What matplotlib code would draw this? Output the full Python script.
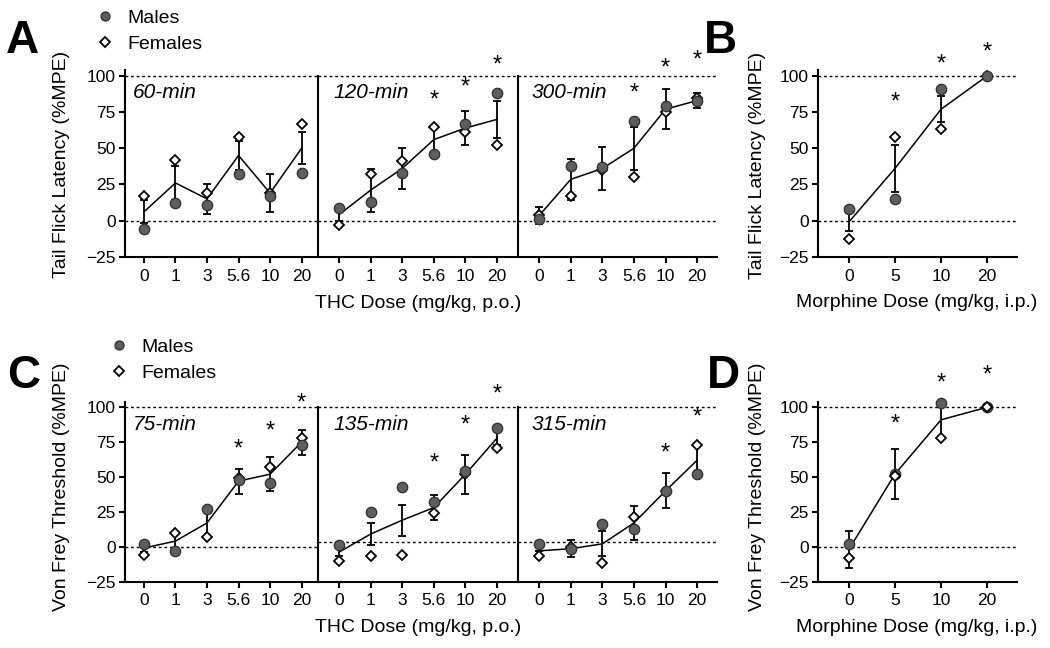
import numpy as np
import matplotlib.pyplot as plt
from matplotlib.lines import Line2D

plt.rcParams['font.family'] = ['Liberation Sans', 'DejaVu Sans']
plt.rcParams['font.size'] = 12

thc_doses = ['0', '1', '3', '5.6', '10', '20']
mor_doses = ['0', '5', '10', '20']

# Tail flick, THC
tf60_males = [-6, 12, 11, 32, 17, 33]
tf60_females = [17, 42, 19, 58, 19, 67]
tf60_mean = [6, 26, 15, 45, 19, 50]
tf60_sem = [8, 12, 10.5, 10, 13, 11]
tf60_stars = [None, None, None, None, None, None]

tf120_males = [9, 13, 33, 46, 67, 88]
tf120_females = [-3, 32, 41, 65, 61, 52]
tf120_mean = [4, 21, 36, 56, 64, 70]
tf120_sem = [4, 15, 14.5, 9, 12, 13]
tf120_stars = [None, None, None, 86, 95, 110]

tf300_males = [1, 38, 37, 69, 79, 83]
tf300_females = [4, 17, 35, 30, 75, 85]
tf300_mean = [3.5, 28.5, 36, 50, 77, 83]
tf300_sem = [6, 14, 15, 15, 14, 5]
tf300_stars = [None, None, None, 91, 108, 114]

# Tail flick, morphine
tfm_males = [8, 15, 91, 100]
tfm_females = [-13, 58, 63, 100]
tfm_mean = [-1, 36, 77, 100]
tfm_sem = [6.5, 16, 9, 0]
tfm_stars = [None, 85, 111, 119]

# Von Frey, THC
vf75_males = [2, -3, 27, 48, 46, 73]
vf75_females = [-6, 10, 7, 49, 57, 78]
vf75_mean = [-1, 4, 17, 47, 52, 75]
vf75_sem = [3, 5, 10, 9, 12, 9]
vf75_stars = [None, None, None, 73, 86, 106]

vf135_males = [1, 25, 43, 32, 54, 85]
vf135_females = [-10, -7, -6, 24, 52, 71]
vf135_mean = [-4, 9, 19, 28, 52, 78]
vf135_sem = [3, 8, 11, 9, 14, 5]
vf135_stars = [None, None, None, 63, 90, 112]

vf315_males = [2, -2, 16, 13, 40, 52]
vf315_females = [-7, 0, -12, 21, 40, 73]
vf315_mean = [-3, -1.5, 2, 17, 40, 62]
vf315_sem = [0, 6, 9, 12.5, 12.5, 10.5]
vf315_stars = [None, None, None, None, 70, 96]

# Von Frey, morphine
vfm_males = [2, 52, 103, 100]
vfm_females = [-8, 51, 78, 100]
vfm_mean = [-2, 52, 91, 100]
vfm_sem = [13, 18, 12, 0]
vfm_stars = [None, 91, 120, 126]

W, H = 1050, 648
fig = plt.figure(figsize=(10.5, 6.48), dpi=100)


def px_axes(x0, x1, ybot, ytop):
    return fig.add_axes([x0 / W, 1 - ybot / H, (x1 - x0) / W, (ybot - ytop) / H])


def draw(ax, labels, males, females, mean, sem, stars, xlim,
         first=True, ref0=0, diam_top=False):
    x = np.arange(len(mean))
    dash = (0, (2, 2))
    ax.axhline(100, color='k', lw=1, ls=dash, zorder=1)
    ax.axhline(ref0, color='k', lw=1, ls=dash, zorder=1)
    ax.errorbar(x, mean, yerr=sem, color='k', lw=1.1, elinewidth=1.3,
                capsize=3, capthick=1.3, zorder=2)
    zc, zd = (3, 4) if diam_top else (4, 3)
    ax.plot(x, males, 'o', ms=7.5, mfc='#5e5e5e', mec='#2e2e2e', mew=0.9,
            ls='none', zorder=zc, clip_on=False)
    ax.plot(x, females, 'D', ms=5.5, mfc='white', mec='k', mew=1.3,
            ls='none', zorder=zd, clip_on=False)
    for i, s in enumerate(stars):
        if s is not None:
            ax.annotate('*', (i, s), xytext=(0, -7.5), textcoords='offset points',
                        ha='center', va='baseline', fontsize=17,
                        annotation_clip=False)
    ax.set_xlim(xlim)
    ax.set_ylim(-25, 104)
    ax.set_xticks(x)
    ax.set_xticklabels(labels)
    ax.spines['top'].set_visible(False)
    ax.spines['right'].set_visible(False)
    for sp in ('left', 'bottom'):
        ax.spines[sp].set_linewidth(1.5)
    ax.tick_params(width=1.5, length=4.5, labelsize=12.5)
    ax.tick_params(axis='x', pad=4)
    ax.tick_params(axis='y', pad=2)
    if first:
        ax.set_yticks([-25, 0, 25, 50, 75, 100])
        ax.spines['left'].set_bounds(-25, 104)
    else:
        ax.tick_params(axis='y', left=False, labelleft=False)
        ax.spines['left'].set_bounds(-25, 100)


# Row positions (pixels)
a_bot, a_top = 256.7, 70.2
c_bot, c_top = 581.5, 401.7

axA1 = px_axes(125, 318, a_bot, a_top)
axA2 = px_axes(318, 518, a_bot, a_top)
axA3 = px_axes(518, 717, a_bot, a_top)
axB = px_axes(818, 1017, a_bot, a_top)
axC1 = px_axes(125, 318, c_bot, c_top)
axC2 = px_axes(318, 518, c_bot, c_top)
axC3 = px_axes(518, 717, c_bot, c_top)
axD = px_axes(818, 1017, c_bot, c_top)

draw(axA1, thc_doses, tf60_males, tf60_females, tf60_mean, tf60_sem, tf60_stars, (-0.6, 5.52))
draw(axA2, thc_doses, tf120_males, tf120_females, tf120_mean, tf120_sem, tf120_stars, (-0.66, 5.66), first=False)
draw(axA3, thc_doses, tf300_males, tf300_females, tf300_mean, tf300_sem, tf300_stars, (-0.67, 5.63), first=False)
draw(axB, mor_doses, tfm_males, tfm_females, tfm_mean, tfm_sem, tfm_stars, (-0.67, 3.65))
draw(axC1, thc_doses, vf75_males, vf75_females, vf75_mean, vf75_sem, vf75_stars, (-0.6, 5.52))
draw(axC2, thc_doses, vf135_males, vf135_females, vf135_mean, vf135_sem, vf135_stars, (-0.66, 5.66), first=False, ref0=3.5)
draw(axC3, thc_doses, vf315_males, vf315_females, vf315_mean, vf315_sem, vf315_stars, (-0.67, 5.63), first=False, ref0=3.5)
draw(axD, mor_doses, vfm_males, vfm_females, vfm_mean, vfm_sem, vfm_stars, (-0.67, 3.65), diam_top=True)


def ftext(px, py, s, **kw):
    fig.text(px / W, 1 - py / H, s, **kw)


# time labels
for px, py, s in [(133, 93, '60-min'), (333, 93, '120-min'), (532, 93, '300-min'),
                  (133, 425, '75-min'), (333, 425, '135-min'), (532, 425, '315-min')]:
    ftext(px, py, s, style='italic', fontsize=15, va='center', ha='left')

# axis labels
ylab_tf = 'Tail Flick Latency (%MPE)'
ylab_vf = 'Von Frey Threshold (%MPE)'
xlab_thc = 'THC Dose (mg/kg, p.o.)'
xlab_mor = 'Morphine Dose (mg/kg, i.p.)'
ftext(62, 164, ylab_tf, rotation=90, ha='center', va='center', fontsize=14)
ftext(757, 165, ylab_tf, rotation=90, ha='center', va='center', fontsize=14)
ftext(62, 487, ylab_vf, rotation=90, ha='center', va='center', fontsize=14)
ftext(757, 487, ylab_vf, rotation=90, ha='center', va='center', fontsize=14)
ftext(418, 303, xlab_thc, ha='center', va='center', fontsize=14)
ftext(917, 302, xlab_mor, ha='center', va='center', fontsize=14)
ftext(418, 627, xlab_thc, ha='center', va='center', fontsize=14)
ftext(917, 627, xlab_mor, ha='center', va='center', fontsize=14)

# panel letters
for px, py, s in [(6, 53, 'A'), (704, 53, 'B'), (7, 388, 'C'), (707, 388, 'D')]:
    ftext(px, py, s, fontsize=33, fontweight='bold', ha='left', va='baseline')

# legends
handles = [Line2D([], [], marker='o', ls='none', ms=6.5, mfc='#5e5e5e', mec='#2e2e2e', mew=0.9),
           Line2D([], [], marker='D', ls='none', ms=5, mfc='white', mec='k', mew=1.3)]
for lx, ly in [(97, 9), (111, 338)]:
    fig.legend(handles, ['Males', 'Females'], loc='upper left',
               bbox_to_anchor=(lx / W, 1 - ly / H), frameon=False, fontsize=14,
               handlelength=0.8, handletextpad=0.75, labelspacing=0.45,
               borderpad=0, borderaxespad=0)

fig.savefig('out.png', dpi=100)
